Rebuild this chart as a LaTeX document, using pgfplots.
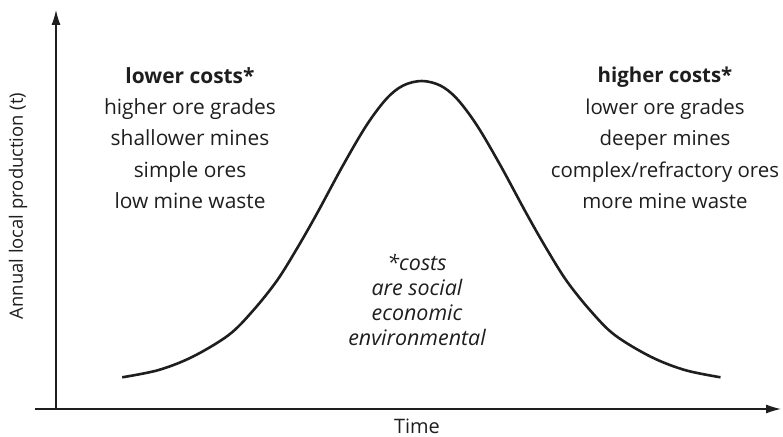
\documentclass[border=0pt]{standalone}
\usepackage{pgfplots}
\pgfplotsset{compat=1.18}
\usepackage{fontspec}
\setmainfont{Open Sans}
\usetikzlibrary{arrows.meta}
\definecolor{ink}{HTML}{1E1E1E}
\begin{document}
\begin{tikzpicture}
\begin{axis}[
  scale only axis, width=783bp, height=437bp,
  xmin=0, xmax=783, ymin=0, ymax=437,
  hide axis, clip=false,
]
\path (axis cs:0,0) rectangle (axis cs:783,437);
% axes
\draw[ink, line width=1.2bp, -{Latex[length=15bp,width=9bp]}] (axis cs:56,28) -- (axis cs:56,427);
\draw[ink, line width=1.2bp, -{Latex[length=15bp,width=9bp]}] (axis cs:35,28) -- (axis cs:781,28);
% curve (pixel x, 437 - pixel y)
\addplot[ink, line width=2.6bp, smooth, tension=0.55] coordinates {
(122.2,59.7) (158.7,67) (192.7,80.3) (228.7,102) (252.7,126) (276.7,156)
(296.7,188) (316.7,223) (343.2,272) (366.7,312) (386.7,338.5) (403.2,351.5) (421.7,356)
(440.2,351.5) (456.7,338.5) (476.7,312) (500.2,272) (526.7,223) (546.7,188)
(566.7,156) (590.7,126) (614.7,102) (650.7,80.3) (684.7,67) (720.5,59.7)
};
% texts
\node[ink, align=center, font=\fontsize{21}{31.5}\selectfont] at (axis cs:190,299)
  {\textbf{lower costs*}\\higher ore grades\\shallower mines\\simple ores\\low mine waste};
\node[ink, align=center, font=\fontsize{20.5}{31.5}\selectfont] at (axis cs:665,299)
  {\textbf{higher costs*}\\lower ore grades\\deeper mines\\complex/refractory ores\\more mine waste};
\node[ink, align=center, font=\fontsize{21.5}{25}\selectfont\itshape] at (axis cs:417,137)
  {*costs\\are social\\economic\\environmental};
\node[ink, font=\fontsize{20}{22}\selectfont] at (axis cs:417,11) {Time};
\node[ink, rotate=90, font=\fontsize{18.5}{20}\selectfont] at (axis cs:18,231) {Annual local production (t)};
\end{axis}
\end{tikzpicture}
\end{document}
